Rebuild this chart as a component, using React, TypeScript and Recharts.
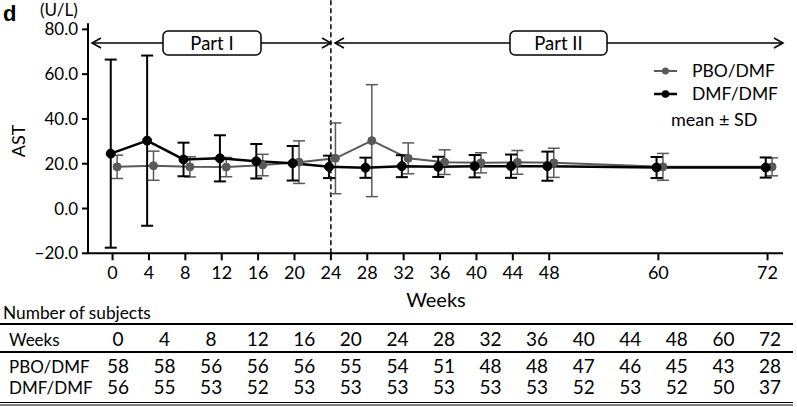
import React from 'react';
import { LineChart, Line, XAxis, YAxis, ErrorBar, ReferenceLine } from 'recharts';

const weeks = [0, 4, 8, 12, 16, 20, 24, 28, 32, 36, 40, 44, 48, 60, 72];
const pboMean = [18.6, 19.1, 18.6, 18.5, 19.4, 20.7, 22.4, 30.3, 22.4, 20.7, 20.4, 20.6, 20.4, 18.6, 18.6];
const pboSd = [5.2, 6.5, 4.5, 4.3, 4.8, 9.5, 15.8, 25.0, 6.9, 5.5, 4.5, 5.3, 6.5, 6.0, 4.0];
const dmfMean = [24.5, 30.3, 21.9, 22.4, 21.1, 20.2, 18.6, 18.2, 18.9, 18.6, 18.9, 18.9, 18.9, 18.3, 18.3];
const dmfSd = [42.0, 38.0, 7.5, 10.3, 7.7, 7.7, 5.0, 4.5, 4.9, 4.5, 5.0, 5.2, 6.5, 4.7, 4.5];
const pboN = [58, 58, 56, 56, 56, 55, 54, 51, 48, 48, 47, 46, 45, 43, 28];
const dmfN = [56, 55, 53, 52, 53, 53, 53, 53, 53, 53, 52, 53, 52, 50, 37];
const yTicks = [-20, 0, 20, 40, 60, 80];
const seriesNames = ['PBO/DMF', 'DMF/DMF'];

const FONT = 'Lato, "Open Sans", sans-serif';
const GRAY = '#595959';

const pboData = weeks.map((w, i) => ({ x: w + 0.5, mean: pboMean[i], sd: pboSd[i] }));
const dmfData = weeks.map((w, i) => ({ x: w - 0.2, mean: dmfMean[i], sd: dmfSd[i] }));

const fmtY = (v: number) => (v < 0 ? '\u2212' + Math.abs(v).toFixed(1) : v.toFixed(1));

function Overlay() {
  const colX = (i: number) => 118 + i * 46.57;
  const rows = [
    { label: 'Weeks', vals: weeks, y: 346 },
    { label: seriesNames[0], vals: pboN, y: 373 },
    { label: seriesNames[1], vals: dmfN, y: 394 },
  ];
  return (
    <svg width={797} height={407} style={{ position: 'absolute', left: 0, top: 0, pointerEvents: 'none' }} fontFamily={FONT}>
      <text x={3} y={21} fontFamily="Arial, 'Liberation Sans', sans-serif" fontWeight="bold" fontSize={22} fill="#000">d</text>
      <text x={40} y={16} fontSize={17} fill="#000">(U/L)</text>
      <text x={0} y={0} fontSize={18} fill="#000" textAnchor="middle" transform="translate(25,141) rotate(-90)">AST</text>
      <text x={436} y={307} fontSize={20} fill="#000" textAnchor="middle">Weeks</text>

      <g stroke="#000" strokeWidth={1.5} fill="none">
        <line x1={92} y1={43} x2={163} y2={43} />
        <line x1={261} y1={43} x2={331} y2={43} />
        <polyline points="101,38 92,43 101,48" />
        <polyline points="322,38 331,43 322,48" />
        <rect x={163} y={31} width={98} height={24} rx={5} fill="#fff" />
        <line x1={335} y1={43} x2={510} y2={43} />
        <line x1={607} y1={43} x2={783} y2={43} />
        <polyline points="344,38 335,43 344,48" />
        <polyline points="774,38 783,43 774,48" />
        <rect x={510} y={31} width={97} height={24} rx={5} fill="#fff" />
      </g>
      <text x={212} y={49.5} fontSize={18.5} textAnchor="middle" fill="#000">Part I</text>
      <text x={558.5} y={49.5} fontSize={18.5} textAnchor="middle" fill="#000">Part II</text>

      <line x1={654} y1={71} x2={677} y2={71} stroke={GRAY} strokeWidth={2} />
      <circle cx={665.5} cy={71} r={3.5} fill={GRAY} />
      <text x={692} y={77} fontSize={17.5} fill="#000">{seriesNames[0]}</text>
      <line x1={654} y1={94} x2={677} y2={94} stroke="#000" strokeWidth={2.5} />
      <circle cx={665.5} cy={94} r={3.8} fill="#000" />
      <text x={692} y={100} fontSize={17.5} fill="#000">{seriesNames[1]}</text>
      <text x={671} y={126} fontSize={18} fill="#000">mean ± SD</text>

      <text x={3} y={319} fontSize={17.3} fill="#000">Number of subjects</text>
      <line x1={0} y1={324} x2={793} y2={324} stroke="#000" strokeWidth={2} />
      <line x1={0} y1={352} x2={793} y2={352} stroke="#000" strokeWidth={2} />
      <line x1={0} y1={402.5} x2={793} y2={402.5} stroke="#000" strokeWidth={1.2} />
      <line x1={0} y1={405} x2={793} y2={405} stroke="#000" strokeWidth={1} />
      {rows.map((r) => (
        <g key={r.label}>
          <text x={9} y={r.y} fontSize={17} fill="#000">{r.label}</text>
          {r.vals.map((v, i) => (
            <text key={i} x={colX(i)} y={r.y} fontSize={19} fill="#000" textAnchor="middle">{v}</text>
          ))}
        </g>
      ))}
    </svg>
  );
}

export default function App() {
  return (
    <div style={{ position: 'absolute', left: 0, top: 0, width: 797, height: 407, background: '#fff', fontFamily: FONT }}>
      <LineChart width={797} height={290} margin={{ top: 23.3, right: 14, left: 28, bottom: 6.7 }}>
        <XAxis
          type="number"
          dataKey="x"
          domain={[-2.7, 73.7]}
          ticks={weeks}
          interval={0}
          allowDataOverflow
          height={30}
          tickSize={7}
          tickMargin={6}
          tick={{ fontSize: 18, fill: '#000', fontFamily: FONT }}
          axisLine={{ stroke: '#000', strokeWidth: 2 }}
          tickLine={{ stroke: '#000', strokeWidth: 2 }}
        />
        <YAxis
          type="number"
          domain={[-20, 82.7]}
          ticks={yTicks}
          interval={0}
          allowDataOverflow
          width={60}
          tickSize={6}
          tickMargin={4}
          tickFormatter={fmtY}
          tick={{ fontSize: 17, fill: '#000', fontFamily: FONT }}
          axisLine={{ stroke: '#000', strokeWidth: 2 }}
          tickLine={{ stroke: '#000', strokeWidth: 2 }}
        />
        <ReferenceLine
          segment={[{ x: 24, y: -20 }, { x: 24, y: 93 }]}
          ifOverflow="visible"
          stroke="#000"
          strokeWidth={1.5}
          strokeDasharray="5 3"
        />
        <Line
          data={pboData}
          dataKey="mean"
          stroke={GRAY}
          strokeWidth={2}
          dot={{ r: 4, fill: GRAY, stroke: GRAY, strokeWidth: 1 }}
          isAnimationActive={false}
        >
          <ErrorBar dataKey="sd" width={6} stroke={GRAY} strokeWidth={1.5} direction="y" />
        </Line>
        <Line
          data={dmfData}
          dataKey="mean"
          stroke="#000"
          strokeWidth={2.5}
          dot={{ r: 4.5, fill: '#000', stroke: '#000', strokeWidth: 1 }}
          isAnimationActive={false}
        >
          <ErrorBar dataKey="sd" width={6} stroke="#000" strokeWidth={2} direction="y" />
        </Line>
      </LineChart>
      <Overlay />
    </div>
  );
}
